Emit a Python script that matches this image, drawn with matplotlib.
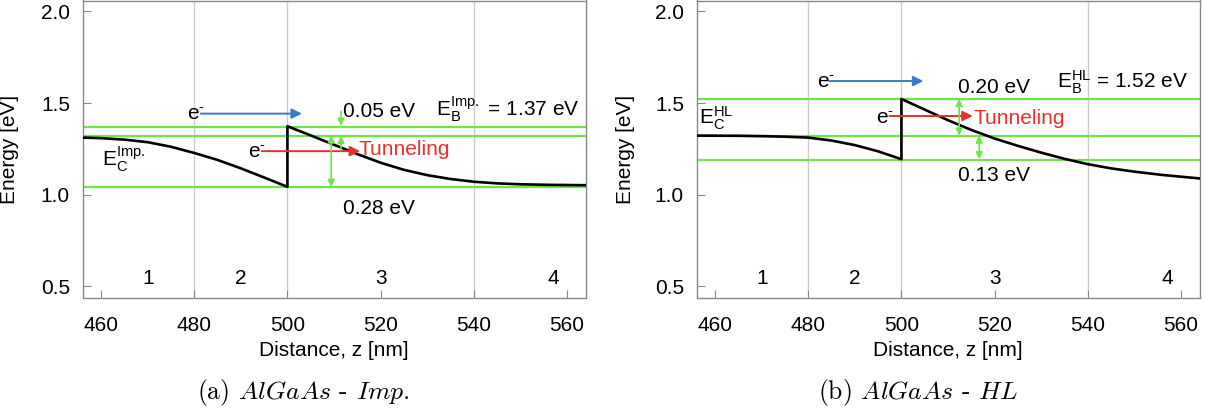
import numpy as np
import matplotlib
matplotlib.use("Agg")
import matplotlib.pyplot as plt

plt.rcParams['font.family'] = ['Liberation Sans', 'DejaVu Sans']
plt.rcParams['mathtext.default'] = 'regular'

# conduction band profiles
z_imp = [456, 460, 465, 470, 475, 480, 485, 490, 495, 500,
         500, 502.5, 505, 510, 515, 520, 525, 530, 535, 540, 545, 550, 556, 564]
e_imp = [1.311, 1.308, 1.300, 1.286, 1.261, 1.227, 1.189, 1.143, 1.093, 1.042,
         1.373, 1.348, 1.323, 1.272, 1.221, 1.174, 1.135, 1.106, 1.085, 1.070, 1.061, 1.056, 1.053, 1.051]

z_hl = [456, 465, 470, 475, 480, 485, 490, 495, 500,
        500, 505, 510, 515, 520, 525, 530, 535, 540, 545, 550, 556, 564]
e_hl = [1.322, 1.321, 1.319, 1.316, 1.311, 1.295, 1.270, 1.236, 1.193,
        1.522, 1.464, 1.406, 1.353, 1.306, 1.266, 1.229, 1.195, 1.166, 1.143, 1.125, 1.107, 1.088]

# reference levels: barrier top, middle, bottom
levels_imp = [1.37, 1.32, 1.04]
levels_hl = [1.52, 1.32, 1.19]

region_names = ['1', '2', '3', '4']
region_pos = [470, 490, 520, 557]
boundaries = [480, 500, 540]

green = '#6ee64a'
blue = '#3a78c8'
red = '#e8302a'
gray = '#888888'

ELEC = 'e$^{\u2010}$'


def arrow(ax, x0, y0, x1, y1, color, style='-|>', ms=15, lw=1.4):
    ax.annotate('', xy=(x1, y1), xytext=(x0, y0),
                arrowprops=dict(arrowstyle=style, color=color, lw=lw,
                                mutation_scale=ms, shrinkA=0, shrinkB=0))


def setup(ax, z, e, levels):
    for b in boundaries:
        ax.axvline(b, color='#cccccc', lw=1, zorder=0)
    for lv in levels:
        ax.axhline(lv, color=green, lw=1.6, zorder=1)
    ax.plot(z, e, color='black', lw=1.9, zorder=3)
    for name, p in zip(region_names, region_pos):
        ax.text(p, 0.542, name, ha='center', va='center', fontsize=15)
    ax.set_xlim(456, 564)
    ax.set_ylim(0.4375, 2.06)
    ax.set_xticks([460, 480, 500, 520, 540, 560])
    ax.set_yticks([0.5, 1.0, 1.5, 2.0])
    ax.tick_params(direction='in', length=6, color=gray, labelsize=15)
    ax.tick_params(axis='x', pad=13)
    ax.tick_params(axis='y', pad=9)
    for s in ax.spines.values():
        s.set_color(gray)
        s.set_linewidth(1)
    ax.set_xlabel('Distance, z [nm]', fontsize=15, labelpad=5)
    ax.set_ylabel('Energy [eV]', fontsize=15)


fig = plt.figure(figsize=(12.14, 4.12), dpi=100)
H = 412.0
W = 1214.0
ax1 = fig.add_axes([82.5 / W, 1 - 297.5 / H, 503 / W, 297 / H])
ax2 = fig.add_axes([696.5 / W, 1 - 297.5 / H, 503 / W, 297 / H])

# ---- panel (a) Imp.
setup(ax1, z_imp, e_imp, levels_imp)
ax1.yaxis.set_label_coords(-0.126, 0.5)
ax1.text(460.1, 1.154, r'E$_C^{Imp.}$', fontsize=15, va='baseline')
ax1.text(532.0, 1.427, r'E$_B^{Imp.}$ = 1.37 eV', fontsize=15, va='baseline')
ax1.text(512.0, 1.423, '0.05 eV', fontsize=15, va='baseline')
ax1.text(512.0, 0.893, '0.28 eV', fontsize=15, va='baseline')
ax1.text(478.4, 1.405, ELEC, fontsize=15, va='baseline')
arrow(ax1, 481.4, 1.442, 503.1, 1.442, blue)
ax1.text(491.6, 1.202, ELEC, fontsize=15, va='baseline')
arrow(ax1, 494.5, 1.237, 515.6, 1.237, red)
ax1.text(515.2, 1.214, 'Tunneling', fontsize=15, va='baseline', color=red)
arrow(ax1, 509.4, 1.042, 509.4, 1.323, green, style='<|-|>', ms=10, lw=1.2)
arrow(ax1, 511.5, 1.456, 511.5, 1.376, green, ms=10, lw=1.2)
arrow(ax1, 511.5, 1.242, 511.5, 1.320, green, ms=10, lw=1.2)

# ---- panel (b) HL
setup(ax2, z_hl, e_hl, levels_hl)
ax2.yaxis.set_label_coords(-0.123, 0.5)
ax2.text(456.6, 1.384, r'E$_C^{HL}$', fontsize=15, va='baseline')
ax2.text(533.5, 1.578, r'E$_B^{HL}$ = 1.52 eV', fontsize=15, va='baseline')
ax2.text(512.2, 1.554, '0.20 eV', fontsize=15, va='baseline')
ax2.text(512.2, 1.074, '0.13 eV', fontsize=15, va='baseline')
ax2.text(481.8, 1.584, ELEC, fontsize=15, va='baseline')
arrow(ax2, 484.5, 1.620, 504.7, 1.620, blue)
ax2.text(494.5, 1.384, ELEC, fontsize=15, va='baseline')
arrow(ax2, 497.4, 1.429, 515.3, 1.429, red)
ax2.text(515.4, 1.387, 'Tunneling', fontsize=15, va='baseline', color=red)
arrow(ax2, 512.4, 1.522, 512.4, 1.322, green, style='<|-|>', ms=10, lw=1.2)
arrow(ax2, 516.7, 1.322, 516.7, 1.193, green, style='<|-|>', ms=10, lw=1.2)

# captions
fig.text(303.5 / W, 1 - 393 / H, r'(a) $\mathit{AlGaAs}$ - $\mathit{Imp.}$', fontsize=18.5,
         family='cmr10', math_fontfamily='cm', ha='center', va='center')
fig.text(918.3 / W, 1 - 393 / H, r'(b) $\mathit{AlGaAs}$ - $\mathit{HL}$', fontsize=18.5,
         family='cmr10', math_fontfamily='cm', ha='center', va='center')

fig.savefig('out.png', dpi=100)
